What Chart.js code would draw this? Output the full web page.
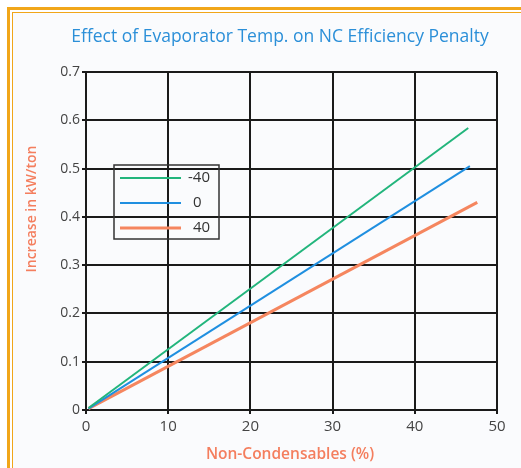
<!DOCTYPE html>
<html>
<head>
<meta charset="utf-8">
<script src="https://cdn.jsdelivr.net/npm/chart.js@4.4.0/dist/chart.umd.min.js"></script>
<style>
    body { margin: 0; background: #fff; }
    #wrap { position: relative; width: 521px; height: 468px; overflow: hidden; background: #fff; }
    .frame1 { position: absolute; left: 7px; top: 7px; right: -20px; bottom: -20px; border: 3px solid #f1a619; }
    .frame2 { position: absolute; left: 12px; top: 12px; right: -20px; bottom: -20px; border: 1px solid #f1a619; background: #fafbfd; }
    canvas { position: absolute; left: 0; top: 0; }
</style>
</head>
<body>
<div id="wrap">
    <div class="frame1"></div>
    <div class="frame2"></div>
    <canvas id="chart" width="521" height="468"></canvas>
</div>
<script>
const seriesNames = ["-40", "0", "40"];
const seriesColors = ["#22b57c", "#1f8fe0", "#f5865f"];
const lineWidths = [2, 2, 3];

// start / end points of each line (x = % non-condensables, y = kW/ton)
const xMinus40 = [0.3, 46.5];
const yMinus40 = [0.004, 0.584];
const xZero = [0.3, 46.7];
const yZero = [0.003, 0.505];
const xForty = [0.3, 47.6];
const yForty = [0.003, 0.43];

const xTicks = [0, 10, 20, 30, 40, 50];
const yTicks = [0, 0.1, 0.2, 0.3, 0.4, 0.5, 0.6, 0.7];

const chartTitle = "Effect of Evaporator Temp. on NC Efficiency Penalty";
const xTitle = "Non-Condensables (%)";
const yTitle = "Increase in kW/ton";

function pts(xs, ys) {
    return xs.map((x, i) => ({ x: x, y: ys[i] }));
}

const seriesData = [pts(xMinus40, yMinus40), pts(xZero, yZero), pts(xForty, yForty)];

/* titles + boxed legend drawn on the canvas */
const extras = {
    id: "extras",
    afterDraw(chart) {
        const c = chart.ctx;
        c.save();
        c.textAlign = "center";
        c.textBaseline = "middle";
        c.fillStyle = "#2b8fd8";
        c.font = "17.5px 'Open Sans'";
        c.fillText(chartTitle, 280, 37, 430);

        c.fillStyle = "#f47e5e";
        c.font = "600 15.5px 'Open Sans'";
        c.fillText(xTitle, 290, 455, 188);

        c.translate(32, 209);
        c.rotate(-Math.PI / 2);
        c.font = "600 14px 'Open Sans'";
        c.fillText(yTitle, 0, 0, 138);
        c.restore();

        // legend box
        c.save();
        c.strokeStyle = "#333";
        c.lineWidth = 1.5;
        c.strokeRect(114, 165, 105, 74);
        const rows = [178, 203, 228];
        c.font = "15px 'Open Sans'";
        c.textAlign = "left";
        c.textBaseline = "middle";
        chart.data.datasets.forEach((d, i) => {
            c.strokeStyle = d.borderColor;
            c.lineWidth = d.borderWidth;
            c.beginPath();
            c.moveTo(120, rows[i]);
            c.lineTo(181, rows[i]);
            c.stroke();
            c.fillStyle = "#333";
            c.fillText(d.label, i == 0 ? 188 : 193, rows[i]);
        });
        c.restore();
    }
};

new Chart(document.getElementById("chart"), {
    type: "scatter",
    data: {
        datasets: seriesNames.map((n, i) => ({
            label: n,
            data: seriesData[i],
            showLine: true,
            borderColor: seriesColors[i],
            backgroundColor: seriesColors[i],
            borderWidth: lineWidths[i],
            pointRadius: 0
        }))
    },
    options: {
        responsive: false,
        animation: false,
        layout: { padding: { top: 72, right: 24, left: 0, bottom: 0 } },
        plugins: {
            legend: { display: false },
            title: { display: false },
            tooltip: { enabled: false }
        },
        scales: {
            x: {
                type: "linear",
                min: 0,
                max: 50,
                afterFit(s) { s.height = 58; },
                afterBuildTicks(s) { s.ticks = xTicks.map(v => ({ value: v })); },
                grid: { color: "#1a1a1a", lineWidth: 2, tickLength: 4 },
                border: { color: "#1a1a1a", width: 2 },
                ticks: { color: "#444", font: { size: 15, family: "'Open Sans'" }, padding: 4 }
            },
            y: {
                type: "linear",
                min: 0,
                max: 0.7,
                afterFit(s) { s.width = 86; },
                afterBuildTicks(s) { s.ticks = yTicks.map(v => ({ value: v })); },
                grid: { color: "#1a1a1a", lineWidth: 2, tickLength: 4 },
                border: { color: "#1a1a1a", width: 2 },
                ticks: { color: "#444", font: { size: 14, family: "'Open Sans'" }, padding: 2 }
            }
        }
    },
    plugins: [extras]
});
</script>
</body>
</html>
